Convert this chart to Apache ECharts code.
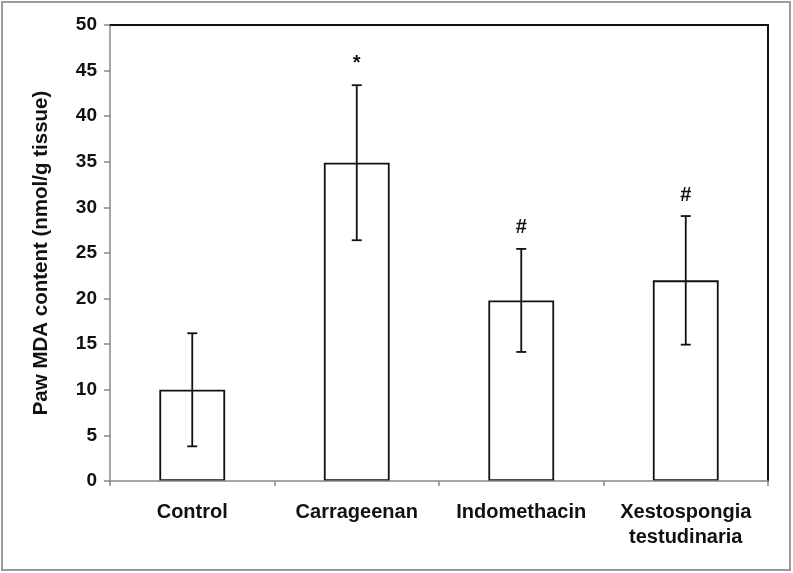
<!DOCTYPE html>
<html>
<head>
<meta charset="utf-8">
<script src="https://cdn.jsdelivr.net/npm/echarts@6/dist/echarts.min.js"></script>
<style>
html,body{margin:0;padding:0;background:#fff;}
#chart{width:793px;height:573px;}
</style>
</head>
<body>
<div id="chart"></div>
<script>
var categories = ['Control', 'Carrageenan', 'Indomethacin', 'Xestospongia\ntestudinaria'];
var means = [10.0, 34.9, 19.8, 22.0];
var errors = [6.2, 8.5, 5.65, 7.05];
var marks = ['', '*', '#', '#'];
var yTicks = [0, 5, 10, 15, 20, 25, 30, 35, 40, 45, 50];

var FONT = 'Liberation Sans, Arial, sans-serif';
var chart = echarts.init(document.getElementById('chart'), null, {renderer: 'canvas'});

var errData = means.map(function (m, i) { return [i, m - errors[i], m + errors[i], marks[i]]; });

chart.setOption({
  animation: false,
  backgroundColor: '#fff',
  graphic: [{
    type: 'rect', silent: true, z: 100,
    shape: {x: 2, y: 2, width: 788, height: 568},
    style: {fill: 'none', stroke: '#9a9a9a', lineWidth: 2}
  }],
  grid: {left: 110, top: 25, right: 25, bottom: 92, containLabel: false},
  xAxis: [{
    type: 'category',
    data: categories,
    boundaryGap: true,
    z: 5,
    axisLine: {onZero: false, lineStyle: {color: '#888', width: 1.5}},
    axisTick: {show: true, length: 5, lineStyle: {color: '#888', width: 1.5}, alignWithLabel: false},
    axisLabel: {color: '#111', fontFamily: FONT, fontWeight: 'bold', fontSize: 20, margin: 19, lineHeight: 25, interval: 0}
  }, {
    type: 'category', position: 'top', data: categories,
    axisLine: {show: true, onZero: false, lineStyle: {color: '#111', width: 2}},
    axisTick: {show: false}, axisLabel: {show: false}
  }],
  yAxis: [{
    type: 'value',
    min: 0, max: 50, interval: 5,
    name: 'Paw MDA content (nmol/g tissue)',
    nameLocation: 'middle',
    nameGap: 58,
    nameTextStyle: {color: '#111', fontFamily: FONT, fontWeight: 'bold', fontSize: 20.5},
    splitLine: {show: false},
    axisLine: {show: true, onZero: false, lineStyle: {color: '#888', width: 1.5}},
    axisTick: {show: true, length: 6, lineStyle: {color: '#888', width: 1.5}},
    axisLabel: {color: '#111', fontFamily: FONT, fontWeight: 'bold', fontSize: 19, margin: 13,
      formatter: function (v) { return yTicks.indexOf(v) >= 0 ? String(v) : ''; }}
  }, {
    type: 'value', position: 'right', min: 0, max: 50, interval: 5,
    splitLine: {show: false},
    axisLine: {show: true, onZero: false, lineStyle: {color: '#111', width: 2}},
    axisTick: {show: false}, axisLabel: {show: false}
  }],
  series: [{
    type: 'bar',
    data: means,
    barWidth: '40%',
    itemStyle: {color: '#fff', borderColor: '#111', borderWidth: 1.8},
    z: 2
  }, {
    type: 'custom',
    data: errData,
    z: 3,
    renderItem: function (params, api) {
      var x = api.value(0);
      var lo = api.coord([x, api.value(1)]);
      var hi = api.coord([x, api.value(2)]);
      var cap = 5;
      var style = {stroke: '#111', lineWidth: 1.8};
      var children = [
        {type: 'line', shape: {x1: hi[0], y1: hi[1], x2: lo[0], y2: lo[1]}, style: style},
        {type: 'line', shape: {x1: hi[0] - cap, y1: hi[1], x2: hi[0] + cap, y2: hi[1]}, style: style},
        {type: 'line', shape: {x1: lo[0] - cap, y1: lo[1], x2: lo[0] + cap, y2: lo[1]}, style: style}
      ];
      var mk = marks[params.dataIndex];
      if (mk) {
        children.push({type: 'text', style: {
          text: mk, x: hi[0], y: hi[1] - (mk === '*' ? 22 : 21),
          textAlign: 'center', textVerticalAlign: 'middle',
          fill: '#111', font: 'bold 20px ' + FONT
        }});
      }
      return {type: 'group', children: children};
    }
  }]
});
</script>
</body>
</html>
